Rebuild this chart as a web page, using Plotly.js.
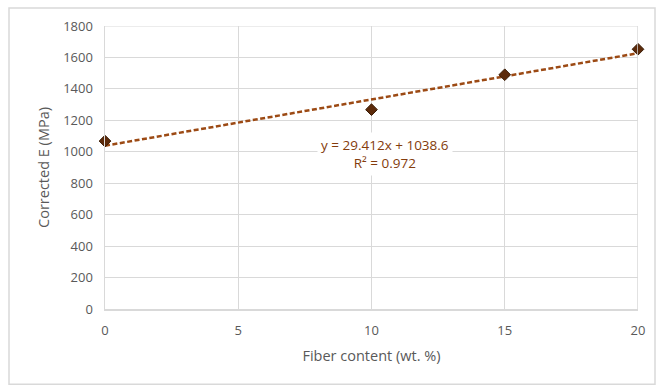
<!DOCTYPE html>
<html>
<head>
<meta charset="utf-8">
<script src="https://cdn.plot.ly/plotly-3.0.1.min.js"></script>
<style>
html,body{margin:0;padding:0;background:#fff;}
#chart{width:661px;height:389px;}
</style>
</head>
<body>
<div id="chart"></div>
<script>
// Data
const fiberContent = [0, 10, 15, 20];
const correctedE = [1068, 1268, 1490, 1652];
// Trendline as printed on the chart
const slope = 29.412;
const intercept = 1038.6;
const rSquared = 0.972;
const xTicks = [0, 5, 10, 15, 20];
const yTicks = [0, 200, 400, 600, 800, 1000, 1200, 1400, 1600, 1800];

const trendX = [0, 20];
const trendY = trendX.map(x => slope * x + intercept);

const textGray = '#595959';
const font = 'Open Sans, Liberation Sans, sans-serif';

const traces = [
  {
    x: trendX, y: trendY, mode: 'lines', type: 'scatter',
    line: {color: '#9C4A14', width: 2.5, dash: '5px,2.5px'},
    hoverinfo: 'skip', showlegend: false, cliponaxis: false
  },
  {
    x: fiberContent, y: correctedE, mode: 'markers', type: 'scatter',
    marker: {symbol: 'diamond', size: 9, color: '#5C2A0A', line: {color: '#3a1c06', width: 1}},
    showlegend: false, cliponaxis: false
  }
];

const layout = {
  width: 661, height: 389,
  margin: {l: 105, r: 23, t: 26, b: 80},
  paper_bgcolor: '#fff', plot_bgcolor: '#fff',
  font: {family: font, color: textGray, size: 12},
  xaxis: {
    range: [0, 20], tickvals: xTicks, ticktext: xTicks.map(String),
    showgrid: true, gridcolor: '#d9d9d9', gridwidth: 1,
    showline: true, linecolor: '#d9d9d9', linewidth: 1.5,
    zeroline: false, ticks: '', ticklabelstandoff: 9,
    tickfont: {size: 13, color: textGray, family: font},
    title: {text: 'Fiber content (wt. %)', font: {size: 14.5, color: textGray, family: font}, standoff: 13}
  },
  yaxis: {
    range: [0, 1800], tickvals: yTicks, ticktext: yTicks.map(String),
    showgrid: true, gridcolor: '#d9d9d9', gridwidth: 1,
    showline: true, linecolor: '#d9d9d9', linewidth: 1.5,
    zeroline: false, ticks: '', ticklabelstandoff: 8,
    tickfont: {size: 13, color: textGray, family: font},
    title: {text: 'Corrected E (MPa)', font: {size: 14.5, color: textGray, family: font}, standoff: 10}
  },
  shapes: [
    {type: 'line', xref: 'x', yref: 'paper', x0: 20, x1: 20, y0: 0, y1: 1, line: {color: '#d9d9d9', width: 1.5}},
    {type: 'line', xref: 'paper', yref: 'y', x0: 0, x1: 1, y0: 1800, y1: 1800, line: {color: '#d9d9d9', width: 1}},
    {type: 'rect', xref: 'paper', yref: 'paper',
     x0: (9 - 105) / 533, x1: (655 - 105) / 533,
     y0: (309.5 - 385) / 283.5, y1: (309.5 - 8) / 283.5,
     line: {color: '#d9d9d9', width: 1.5}, fillcolor: 'rgba(0,0,0,0)', layer: 'below'}
  ],
  annotations: [
    {
      x: 10.5, y: 987, xref: 'x', yref: 'y', showarrow: false,
      text: 'y = ' + slope + 'x + ' + intercept + '<br>R² = ' + rSquared,
      font: {size: 13.5, color: '#843C0C', family: font},
      bgcolor: '#ffffff', borderpad: 3, align: 'center'
    }
  ]
};

Plotly.newPlot('chart', traces, layout, {displayModeBar: false, staticPlot: true});
</script>
</body>
</html>
